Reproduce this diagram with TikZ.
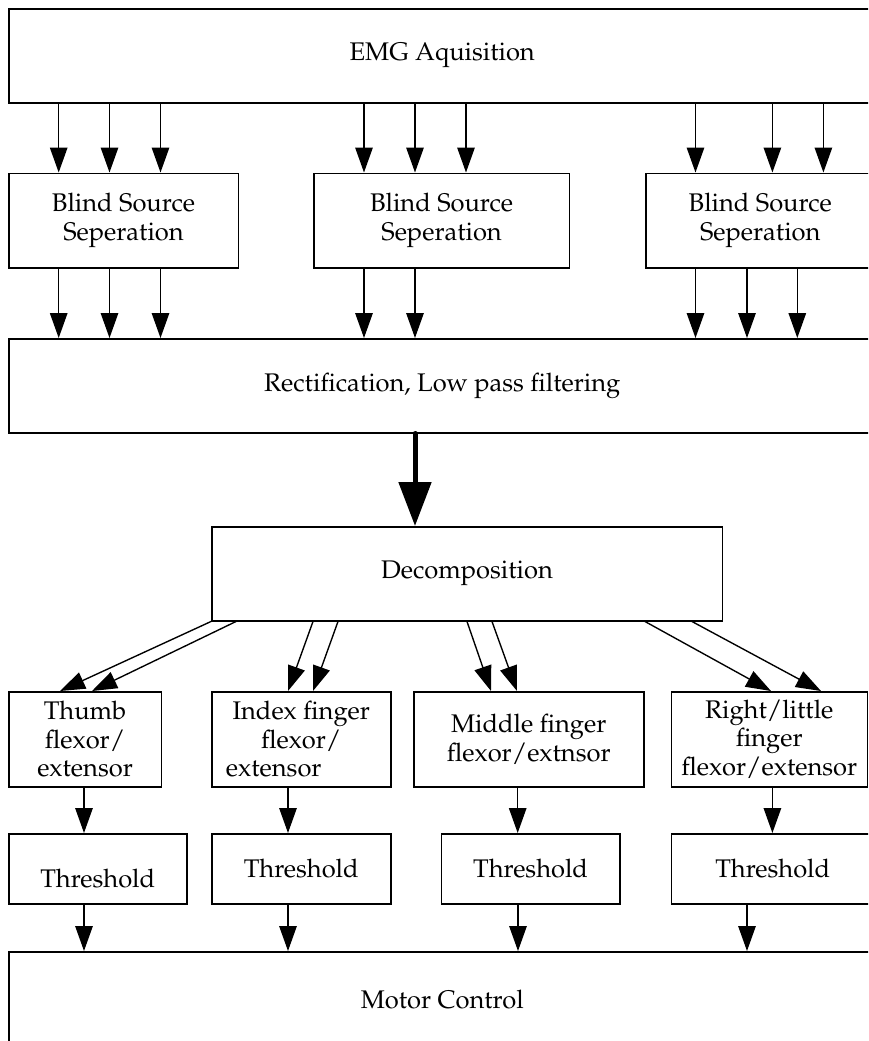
\documentclass[tikz,border=0pt]{standalone}
\usepackage[T1]{fontenc}
\usepackage{mathpazo}
\usetikzlibrary{arrows.meta}

\begin{document}
\begin{tikzpicture}[x=0.4pt, y=-0.4pt,
    block/.style = {draw, line width=0.6pt, align=center, inner sep=0pt, anchor=north west,
                    font=\fontsize{10.2}{11.4}\selectfont},
    sz/.style 2 args = {minimum width=#1*0.4pt, minimum height=#2*0.4pt},
    arr/.style = {-{Triangle[length=10pt, width=7pt]}, line width=0.55pt},
    bigarr/.style = {-{Triangle[length=17.6pt, width=12.8pt]}, line width=2pt, line cap=round}]
    \useasboundingbox (0,0) rectangle (868,1041);
    \clip (0,0) rectangle (868,1041);

    \node[block, sz={867}{94}] (emg) at (8,8) {EMG Aquisition};
    \node[block, sz={229.5}{94.5}] (bss1) at (8,172.5) {Blind Source\\Seperation};
    \node[block, sz={255.7}{94.5}] (bss2) at (313,172.5) {Blind Source\\Seperation};
    \node[block, sz={229}{94.5}] (bss3) at (645,172.5) {Blind Source\\Seperation};
    \node[block, sz={867}{94}] (rect) at (8,338) {Rectification, Low pass filtering};
    \node[block, sz={510.5}{94}] (decomp) at (211,526) {Decomposition};

    \node[block, sz={152.6}{95}] (f1) at (8,691) {Thumb\\flexor/\\extensor};
    \node[block, sz={179}{95}] (f2) at (211,691) {Index finger\\flexor/\\extensor\hspace*{22pt}};
    \node[block, sz={230}{95}] (f3) at (413,691) {Middle finger\\flexor/extnsor};
    \node[block, sz={196}{95}] (f4) at (670.5,691) {Right/little\\finger\\flexor/extensor};

    \node[block, sz={178}{70}] (t1) at (8,833) {\raisebox{-4pt}[\height][\depth]{Threshold}};
    \node[block, sz={179}{70}] (t2) at (211,833) {Threshold};
    \node[block, sz={178.3}{70}] (t3) at (440.7,833) {Threshold};
    \node[block, sz={203}{70}] (t4) at (670.5,833) {Threshold};
    \node[block, sz={867}{95}] (motor) at (8,951) {Motor Control};

    \foreach \x/\b in {58.7/bss1, 109.5/bss1, 160.5/bss1, 364/bss2, 415/bss2, 466/bss2,
                       695.5/bss3, 772.4/bss3, 823.4/bss3} {
        \coordinate (p) at (\x,0);
        \draw[arr] (emg.south -| p) -- (\b.north -| p);
    }
    \foreach \x/\b in {58.7/bss1, 109.5/bss1, 160.5/bss1, 364/bss2, 415/bss2,
                       695.5/bss3, 747/bss3, 797.3/bss3} {
        \coordinate (p) at (\x,0);
        \draw[arr] (\b.south -| p) -- (rect.north -| p);
    }

    \coordinate (mid) at (415,0);
    \draw[bigarr] (rect.south -| mid) -- (decomp.north -| mid);

    \foreach \a/\e/\f in {211/60/f1, 236/92/f1, 313/288/f2, 338/313/f2,
                          467/491/f3, 492/517/f3, 645/771/f4, 692/821/f4} {
        \coordinate (s) at (\a,0);
        \coordinate (e) at (\e,0);
        \draw[arr] (decomp.south -| s) -- (\f.north -| e);
    }

    \foreach \x/\f/\t in {84/f1/t1, 288/f2/t2, 517.7/f3/t3, 772.4/f4/t4} {
        \coordinate (p) at (\x,0);
        \draw[arr] (\f.south -| p) -- (\t.north -| p);
    }
    \foreach \x/\t in {84/t1, 288/t2, 518/t3, 747/t4} {
        \coordinate (p) at (\x,0);
        \draw[arr] (\t.south -| p) -- (motor.north -| p);
    }
\end{tikzpicture}
\end{document}
